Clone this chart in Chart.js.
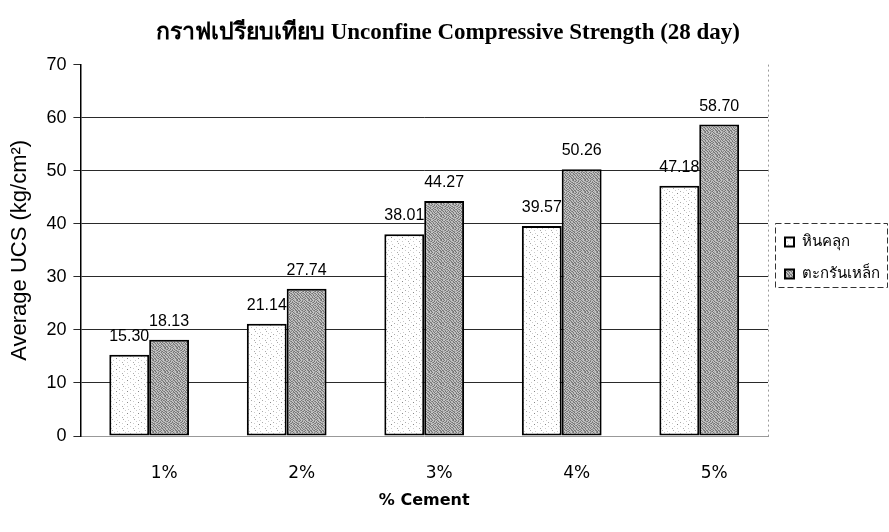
<!DOCTYPE html>
<html>
<head>
<meta charset="utf-8">
<script src="https://cdn.jsdelivr.net/npm/chart.js@4.4.1/dist/chart.umd.min.js"></script>
<style>
  html, body { margin: 0; padding: 0; background: #fff; }
  #wrap { width: 889px; height: 532px; }
</style>
</head>
<body>
<div id="wrap"><canvas id="c" width="889" height="532"></canvas></div>
<script>
// Average UCS after 28 days for each cement content
const categories = ['1%', '2%', '3%', '4%', '5%'];
const crushedRock = [15.30, 21.14, 38.01, 39.57, 47.18];
const steelSlag = [18.13, 27.74, 44.27, 50.26, 58.70];
const seriesNames = ['หินคลุก', 'ตะกรันเหล็ก'];
const yTicks = [0, 10, 20, 30, 40, 50, 60, 70];

// Small repeating tiles used as bar fills ('#' dark, '+' mid-dark, '-' mid, '.' light, ' ' background)
function makePattern(rows, shades, bg) {
  const h = rows.length, w = rows[0].length;
  const cv = document.createElement('canvas');
  cv.width = w; cv.height = h;
  const g = cv.getContext('2d');
  g.fillStyle = bg;
  g.fillRect(0, 0, w, h);
  rows.forEach((r, y) => {
    for (let x = 0; x < w; x++) {
      const col = shades[r[x]];
      if (col) { g.fillStyle = col; g.fillRect(x, y, 1, 1); }
    }
  });
  return g.createPattern(cv, 'repeat');
}
const ctx = document.getElementById('c').getContext('2d');
const lightFill = makePattern([
  '           ',
  '  -        ',
  '       .   ',
  '    .      ',
  '         - ',
  ' .         ',
  '      +    ',
  '           ',
  '   .     . ',
  '           ',
  ' -    .    '
], { '+': '#888', '-': '#aaa', '.': '#ccc' }, '#ffffff');
const darkFill = makePattern([
  '#.+-.#-.+#.-',
  '.-#.+.#-.-+#',
  '+#.-#-.+#.-.',
  '-.+#.+#.-#+-',
  '.#-.-#.#+.#.',
  '#.+#.-+.-#.+',
  '-+.-#.#-.+#.',
  '.#-+.#.+#.-#',
  '+.#.-+#.-#.-',
  '#-.#+.-#.+-.',
  '.+#.-#.+#.#+',
  '-.-+#.-.+#.#'
], { '#': '#747474', '+': '#8c8c8c', '-': '#b0b0b0', '.': '#c8c8c8' }, '#a0a0a0');

// Value labels above each bar
const valueLabels = {
  id: 'valueLabels',
  afterDatasetsDraw(chart) {
    const c = chart.ctx;
    c.save();
    c.font = '16px "Liberation Sans", Arial, sans-serif';
    c.fillStyle = '#000';
    c.textAlign = 'center';
    c.textBaseline = 'alphabetic';
    chart.data.datasets.forEach((ds, i) => {
      chart.getDatasetMeta(i).data.forEach((el, j) => {
        c.fillText(ds.data[j].toFixed(2), el.x, el.y - 14);
      });
    });
    c.restore();
  }
};

// Fixed legend column width, plot-area right edge and the framed legend
const frames = {
  id: 'frames',
  beforeUpdate(chart) {
    const lg = chart.legend;
    if (lg && !lg._fixedWidth) {
      const fit = lg.fit;
      lg.fit = function () { fit.call(this); this.width = 121; };
      lg._fixedWidth = true;
    }
  },
  beforeDatasetsDraw(chart) {
    const a = chart.chartArea, c = chart.ctx;
    c.save();
    c.strokeStyle = '#9a9a9a';
    c.setLineDash([2, 3]);
    c.lineWidth = 1;
    c.beginPath();
    c.moveTo(Math.round(a.right) + 0.5, a.top);
    c.lineTo(Math.round(a.right) + 0.5, a.bottom);
    c.stroke();
    c.restore();
  },
  afterDraw(chart) {
    const l = chart.legend, c = chart.ctx;
    if (!l || !l.legendHitBoxes || !l.legendHitBoxes.length) return;
    const hb = l.legendHitBoxes;
    const left = Math.min(...hb.map(b => b.left)) - 10;
    const top = Math.min(...hb.map(b => b.top)) - 12;
    const bottom = Math.max(...hb.map(b => b.top + b.height)) + 5;
    const right = l.right - 2;
    c.save();
    c.strokeStyle = '#333';
    c.setLineDash([6, 3]);
    c.lineWidth = 1;
    c.strokeRect(Math.round(left) + 0.5, Math.round(top) + 0.5, Math.round(right - left), Math.round(bottom - top));
    c.restore();
  }
};

new Chart(ctx, {
  type: 'bar',
  data: {
    labels: categories,
    datasets: [
      { label: seriesNames[0], data: crushedRock, backgroundColor: lightFill, borderColor: '#000', borderWidth: 2, borderSkipped: false },
      { label: seriesNames[1], data: steelSlag, backgroundColor: darkFill, borderColor: '#000', borderWidth: 2, borderSkipped: false }
    ]
  },
  options: {
    responsive: false,
    animation: false,
    devicePixelRatio: 1,
    layout: { padding: { left: 7, right: 0, top: 0, bottom: 16 } },
    datasets: { bar: { categoryPercentage: 0.58, barPercentage: 1.0 } },
    scales: {
      x: {
        afterFit(scale) { scale.height = 80; },
        grid: { display: false },
        border: { display: true, color: '#999', dash: [2, 2] },
        ticks: { color: '#000', padding: 19, labelOffset: 15, font: { family: '"DejaVu Sans", Verdana, sans-serif', size: 17 } },
        title: { display: true, text: '% Cement', color: '#000', padding: { top: 10, bottom: 6 }, font: { family: '"DejaVu Sans", Tahoma, sans-serif', size: 16, weight: 'bold' } }
      },
      y: {
        min: yTicks[0],
        max: yTicks[yTicks.length - 1],
        afterBuildTicks(scale) { scale.ticks = yTicks.map(v => ({ value: v })); },
        grid: {
          color: (c) => (c.tick && (c.tick.value === 0 || c.tick.value === 70)) ? 'rgba(0,0,0,0)' : '#2a2a2a',
          tickColor: '#2a2a2a',
          tickLength: 7
        },
        border: { display: true, color: '#000', width: 1.5 },
        ticks: { color: '#000', padding: 7, font: { family: '"Liberation Sans", Arial, sans-serif', size: 18 } },
        title: { display: true, text: 'Average UCS (kg/cm²)', color: '#000', padding: { top: 0, bottom: 6 }, font: { family: '"Liberation Sans", Arial, sans-serif', size: 22 } }
      }
    },
    plugins: {
      title: {
        display: true,
        text: 'กราฟเปรียบเทียบ Unconfine Compressive Strength (28 day)',
        color: '#000',
        padding: { top: 19, bottom: 18 },
        font: { family: '"Liberation Serif", "Times New Roman", serif', size: 23, weight: 'bold' }
      },
      legend: {
        position: 'right',
        labels: {
          color: '#000',
          boxWidth: 9,
          boxHeight: 9,
          padding: 17,
          font: { family: '"Noto Sans", "DejaVu Sans", sans-serif', size: 15 }
        }
      },
      tooltip: { enabled: false }
    }
  },
  plugins: [valueLabels, frames]
});
</script>
</body>
</html>
